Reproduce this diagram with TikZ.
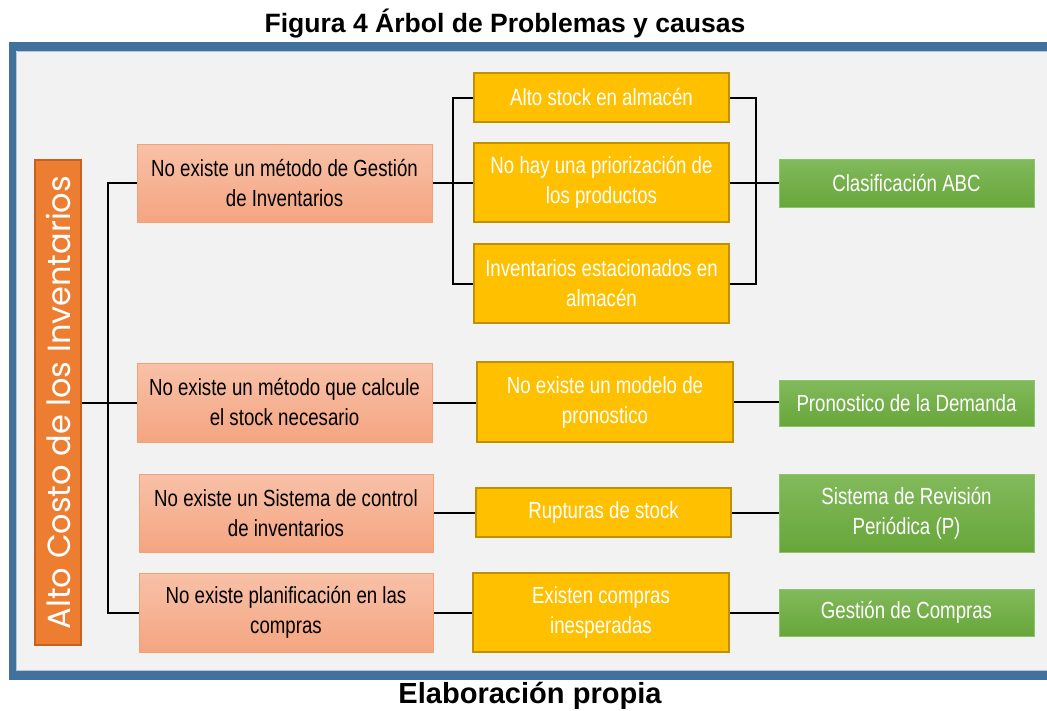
\documentclass[tikz,border=0pt]{standalone}
\usepackage{fontspec}
\setmainfont{Liberation Sans}
\newfontfamily\narrowfont[FakeStretch=0.8]{Liberation Sans}
\newfontfamily\geofont{Poppins}
\definecolor{framecol}{HTML}{41719C}
\definecolor{bgcol}{HTML}{F2F2F2}
\definecolor{orangefill}{HTML}{ED7D31}
\definecolor{orangeline}{HTML}{C8611F}
\definecolor{pinktop}{HTML}{F8C1A8}
\definecolor{pinkbot}{HTML}{F4A581}
\definecolor{pinkline}{HTML}{F4A072}
\definecolor{yellowfill}{HTML}{FFC000}
\definecolor{yellowline}{HTML}{BF9000}
\definecolor{greentop}{HTML}{82BA5C}
\definecolor{greenbot}{HTML}{68A63A}
\definecolor{greenline}{HTML}{8DC26C}
\newcommand\mkbox[7]{%
  \node[#1, minimum width={(#5-#3)*0.75pt}, minimum height={(#6-#4)*0.75pt}]
    (#2) at ({(#3+#5)/2},{(#4+#6)/2}) {#7};}
\begin{document}
\begin{tikzpicture}[x=0.75pt,y=-0.75pt,
  boxbase/.style={rectangle, inner sep=0pt, align=center,
    font=\narrowfont\fontsize{17.5}{22.5}\selectfont},
  pinkbox/.style={boxbase, top color=pinktop, bottom color=pinkbot,
    draw=pinkline, line width=0.75pt, text=black},
  yellowbox/.style={boxbase, fill=yellowfill, draw=yellowline,
    line width=1.4pt, text=white},
  greenbox/.style={boxbase, top color=greentop, bottom color=greenbot,
    draw=greenline, line width=0.75pt, text=white},
  orangebox/.style={rectangle, inner sep=0pt, fill=orangefill,
    draw=orangeline, line width=0.9pt, text=white,
    font=\geofont\fontsize{24}{28}\selectfont},
  conn/.style={draw=black, line width=1.5pt},
  titlefont/.style={font=\bfseries\fontsize{19.9}{24}\selectfont}
]
\useasboundingbox (0,0) rectangle (1047,711);
\fill[white] (0,0) rectangle (1047,711);
% frame
\fill[framecol] (9,42) rectangle (1047,680);
\fill[bgcol] (16,51) rectangle (1047,671);
\draw[color=framecol!40!white, line width=0.6pt] (16.5,51.5) -- (1047,51.5);
\draw[color=framecol!40!white, line width=0.6pt] (16.5,51.5) -- (16.5,670.5) -- (1047,670.5);
% titles
\node[titlefont] (title) at (505,24) {Figura 4 Árbol de Problemas y causas};
\node[font=\bfseries\fontsize{21.8}{26}\selectfont] (foot) at (530,696) {Elaboración propia};
% root
\node[orangebox, rotate=90, minimum width={485*0.75pt}, minimum height={46*0.75pt}]
  (root) at (58,402.5) {Alto Costo de los Inventarios};
% causes
\mkbox{pinkbox}{P1}{137}{144}{432}{222}{No existe un método de Gestión\\de Inventarios}
\mkbox{pinkbox}{P2}{137}{363}{432}{442}{No existe un método que calcule\\el stock necesario}
\mkbox{pinkbox}{P3}{139}{474}{433}{552}{No existe un Sistema de control\\de inventarios}
\mkbox{pinkbox}{P4}{139}{573}{433}{652}{No existe planificación en las\\compras}
% effects
\mkbox{yellowbox}{Y1}{474}{73}{729}{122}{Alto stock en almacén}
\mkbox{yellowbox}{Y2}{474}{143}{729}{222}{No hay una priorización de\\los productos}
\mkbox{yellowbox}{Y3}{474}{244}{729}{323}{Inventarios estacionados en\\almacén}
\mkbox{yellowbox}{Y4}{477}{362}{733}{442}{No existe un modelo de\\pronostico}
\mkbox{yellowbox}{Y5}{476}{488}{731}{537}{Rupturas de stock}
\mkbox{yellowbox}{Y6}{473}{573}{729}{652}{Existen compras\\inesperadas}
% solutions
\mkbox{greenbox}{G1}{779}{159}{1034}{207}{Clasificación ABC}
\mkbox{greenbox}{G2}{779}{380}{1034}{426}{Pronostico de la Demanda}
\mkbox{greenbox}{G3}{779}{474}{1034}{552}{Sistema de Revisión\\Periódica (P)}
\mkbox{greenbox}{G4}{779}{589}{1034}{636}{Gestión de Compras}
% connectors
\coordinate (tk) at (108,0);
\coordinate (lb) at (453,0);
\coordinate (rb) at (756,0);
\draw[conn] (root.south) -- (root.south -| P2.west);
\draw[conn] (P1.west) -- (P1.west -| tk) -- (P4.west -| tk) -- (P4.west);
\draw[conn] (P1.east) -- (P1.east -| Y2.west);
\draw[conn] (Y1.west) -- (Y1.west -| lb) -- (Y3.west -| lb) -- (Y3.west);
\draw[conn] (Y1.east) -- (Y1.east -| rb) -- (Y3.east -| rb) -- (Y3.east);
\draw[conn] (Y2.east) -- (Y2.east -| G1.west);
\draw[conn] (P2.east) -- (P2.east -| Y4.west);
\draw[conn] (Y4.east) -- (Y4.east -| G2.west);
\draw[conn] (P3.east) -- (P3.east -| Y5.west);
\draw[conn] (Y5.east) -- (Y5.east -| G3.west);
\draw[conn] (P4.east) -- (P4.east -| Y6.west);
\draw[conn] (Y6.east) -- (Y6.east -| G4.west);
\end{tikzpicture}
\end{document}
